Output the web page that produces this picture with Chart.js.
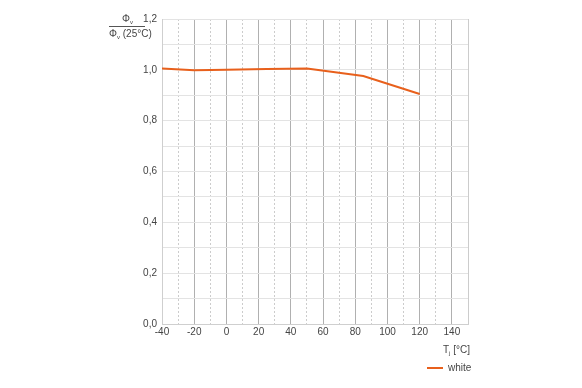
<!DOCTYPE html>
<html>
<head>
<meta charset="utf-8">
<script src="https://cdn.jsdelivr.net/npm/chart.js@4"></script>
<style>
  body { margin: 0; background: #fff; font-family: "Liberation Sans", Arial, sans-serif; color: #444; }
  #wrap { position: relative; width: 582px; height: 388px; }
  .lbl { position: absolute; font-size: 10px; color: #444; white-space: nowrap; }
  sub { font-size: 6px; vertical-align: -2px; }
</style>
</head>
<body>
<div id="wrap">
  <canvas id="chart" width="582" height="388"></canvas>
  <div class="lbl" style="left:122px; top:13px;">Φ<sub>v</sub></div>
  <div style="position:absolute; left:109px; top:26px; width:36px; height:1px; background:#555;"></div>
  <div class="lbl" style="left:109px; top:28px;">Φ<sub>v</sub> (25°C)</div>
  <div class="lbl" style="left:443px; top:344px;">T<sub>j</sub> [°C]</div>
  <div style="position:absolute; left:427px; top:367px; width:16px; height:2px; background:#e8601c;"></div>
  <div class="lbl" style="left:448px; top:362px;">white</div>
</div>
<script>
// readings
const tempC = [-40, -20, 0, 25, 50, 85, 120];
const fluxWhite = [1.005, 0.998, 1.0, 1.003, 1.005, 0.976, 0.905];
const seriesName = 'white';

const orange = '#e8601c';

new Chart(document.getElementById('chart'), {
  type: 'line',
  data: {
    datasets: [{
      label: seriesName,
      data: tempC.map((t, i) => ({ x: t, y: fluxWhite[i] })),
      borderColor: orange,
      borderWidth: 2,
      pointRadius: 0,
      tension: 0,
      fill: false
    }]
  },
  options: {
    responsive: false,
    animation: false,
    layout: { padding: { left: 0, top: 19, right: 114, bottom: 0 } },
    plugins: { legend: { display: false }, tooltip: { enabled: false } },
    scales: {
      x: {
        type: 'linear',
        min: -40,
        max: 150,
        afterFit: s => { s.height = 64; },
        ticks: {
          stepSize: 10,
          autoSkip: false,
          maxRotation: 0,
          padding: 2,
          color: '#444',
          font: { family: 'Liberation Sans', size: 10 },
          callback: v => (v % 20 === 0 && v < 150) ? String(v) : ''
        },
        grid: {
          drawTicks: false,
          color: ctx => (ctx.tick && ctx.tick.value % 20 === 0) ? '#b0b0b0' : '#cccccc',
          lineWidth: 1
        },
        border: {
          color: '#cfcfcf',
          dash: ctx => (ctx.tick && ctx.tick.value % 20 !== 0 && ctx.tick.value !== 150) ? [2, 2] : []
        }
      },
      y: {
        min: 0,
        max: 1.2,
        afterFit: s => { s.width = 162; },
        ticks: {
          stepSize: 0.1,
          autoSkip: false,
          padding: 5,
          color: '#444',
          font: { family: 'Liberation Sans', size: 10 },
          callback: v => (Math.round(v * 10) % 2 === 0) ? v.toFixed(1).replace('.', ',') : ''
        },
        grid: { drawTicks: false, color: '#e3e3e3', lineWidth: 1 },
        border: { color: '#cfcfcf' }
      }
    }
  }
});
</script>
</body>
</html>
